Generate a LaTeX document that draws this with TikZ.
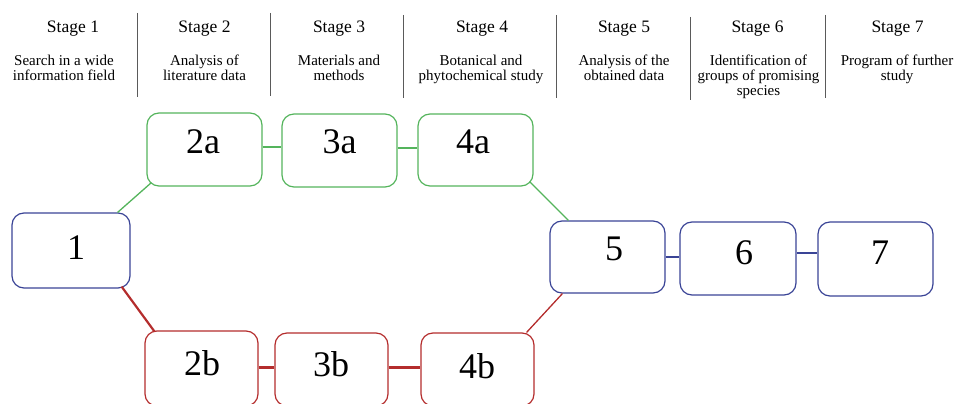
\documentclass[tikz,border=0pt]{standalone}
\usepackage{fontspec}
\setmainfont{Liberation Serif}
\definecolor{cgreen}{RGB}{84,180,92}
\definecolor{cblue}{RGB}{58,68,150}
\definecolor{cred}{RGB}{180,45,45}
\definecolor{csep}{RGB}{90,90,90}
\tikzset{
  box/.style={draw, rounded corners=12pt, line width=1.2pt, inner sep=0pt, minimum width=115pt, minimum height=73pt},
  num/.style={inner sep=0pt, font=\fontsize{36}{36}\selectfont},
  stagelbl/.style={inner sep=0pt, anchor=base, font=\fontsize{17.5}{17.5}\selectfont},
  desc/.style={inner sep=0pt, anchor=north, align=center, font=\fontsize{15}{15}\selectfont},
  thinlink/.style={line width=1.3pt},
  thicklink/.style={line width=2.2pt},
}
\begin{document}
\begin{tikzpicture}[x=1pt,y=-1pt]
\useasboundingbox (0,0) rectangle (956,404);
\clip (0,0) rectangle (956,404);
% header
\node[stagelbl] (s1) at (73,32.5) {Stage 1};
\node[stagelbl] (s2) at (204.5,32.5) {Stage 2};
\node[stagelbl] (s3) at (339,32.5) {Stage 3};
\node[stagelbl] (s4) at (482,32.5) {Stage 4};
\node[stagelbl] (s5) at (624,32.5) {Stage 5};
\node[stagelbl] (s6) at (757.5,32.5) {Stage 6};
\node[stagelbl] (s7) at (897.5,32.5) {Stage 7};
\node[desc] (d1) at (64,54.7) {Search in a wide\\information field};
\node[desc] (d2) at (204.5,54.7) {Analysis of\\literature data};
\node[desc] (d3) at (339,54.7) {Materials and\\methods};
\node[desc] (d4) at (481,54.7) {Botanical and\\phytochemical study};
\node[desc] (d5) at (624,54.7) {Analysis of the\\obtained data};
\node[desc] (d6) at (758.5,54.7) {Identification of\\groups of promising\\species};
\node[desc] (d7) at (897,54.7) {Program of further\\study};
\foreach \x/\a/\b in {137/13/97, 270/13/96, 403/15/98, 556/15/98, 690/17/100, 825/15/98}
  \draw[csep, line width=0.9pt] (\x,\a) -- (\x,\b);
% boxes
\node[box, cblue, minimum width=118pt, minimum height=75pt] (b1) at (71,250.5) {};
\node[box, cgreen] (b2a) at (204.5,149.5) {};
\node[box, cgreen] (b3a) at (339.5,150.5) {};
\node[box, cgreen, minimum height=72pt] (b4a) at (475.5,150) {};
\node[box, cred, minimum width=113pt, minimum height=75pt] (b2b) at (201.5,368.5) {};
\node[box, cred, minimum width=113pt] (b3b) at (331.5,369.5) {};
\node[box, cred, minimum width=113pt] (b4b) at (477.5,369.5) {};
\node[box, cblue, minimum height=72pt] (b5) at (607.5,257) {};
\node[box, cblue, minimum width=116pt] (b6) at (738,258.5) {};
\node[box, cblue, minimum height=74pt] (b7) at (875.5,259) {};
% numbers
\node[num] (t1) at (76,247.5) {1};
\node[num] (t2a) at (203,142) {2a};
\node[num] (t3a) at (339.5,142) {3a};
\node[num] (t4a) at (473,142) {4a};
\node[num] (t2b) at (202,363.5) {2b};
\node[num] (t3b) at (331,364) {3b};
\node[num] (t4b) at (477,366) {4b};
\node[num] (t5) at (614,249) {5};
\node[num] (t6) at (744,252.5) {6};
\node[num] (t7) at (880,252.5) {7};
% connectors
\draw[cgreen, thinlink] ([xshift=-13pt]b1.north east) -- ([xshift=5pt,yshift=4pt]b2a.south west);
\draw[cred, thicklink] ([xshift=-9pt,yshift=2pt]b1.south east) -- ([xshift=10pt,yshift=-1pt]b2b.north west);
\draw[cgreen, thicklink] ([yshift=2.5pt]b2a.east) -- ([yshift=2.5pt]b2a.east -| b3a.west);
\draw[cgreen, thicklink] ([yshift=2.5pt]b3a.east) -- ([yshift=2.5pt]b3a.east -| b4a.west);
\draw[cred, thicklink] ([yshift=1pt]b2b.east) -- ([yshift=1pt]b2b.east -| b3b.west);
\draw[cred, thicklink] ([yshift=2pt]b3b.east) -- ([yshift=2pt]b3b.east -| b4b.west);
\draw[cgreen, thinlink] ([xshift=-4pt,yshift=5pt]b4a.south east) -- ([xshift=19pt]b5.north west);
\draw[cred, thinlink] ([xshift=-8pt]b4b.north east) -- ([xshift=13pt]b5.south west);
\draw[cblue, thicklink] (b5.east) -- (b5.east -| b6.west);
\draw[cblue, thicklink] ([yshift=5.5pt]b6.east) -- ([yshift=5.5pt]b6.east -| b7.west);
\end{tikzpicture}
\end{document}
